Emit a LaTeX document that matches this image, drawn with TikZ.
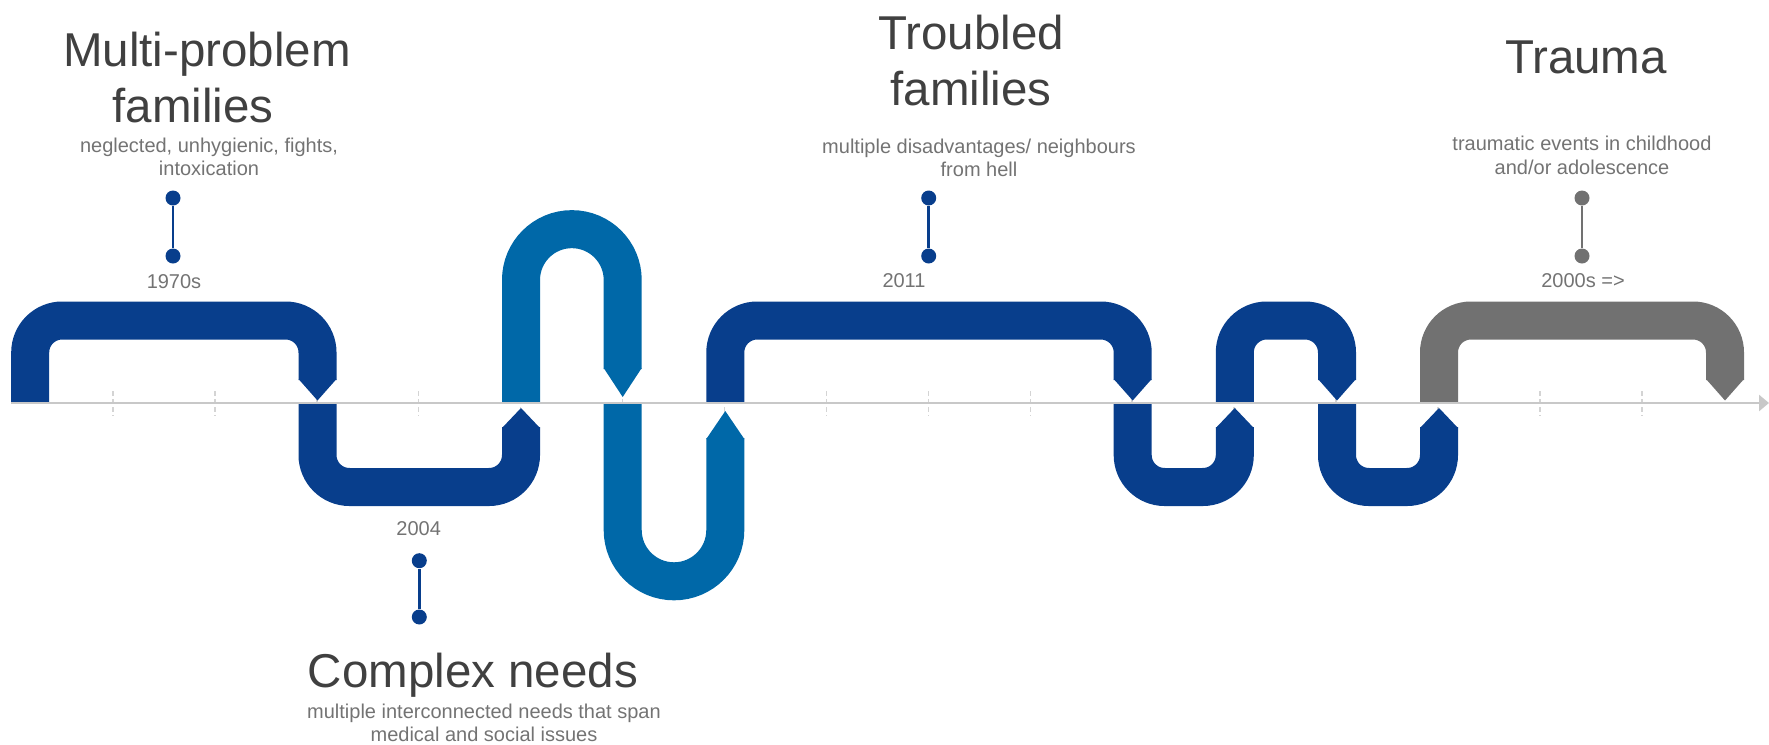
\documentclass[tikz,border=0pt]{standalone}
\usepackage{fontspec}
\setmainfont{Liberation Sans}
\usetikzlibrary{arrows.meta}

\definecolor{darkblue}{HTML}{083E8C}
\definecolor{lightblue}{HTML}{0068A8}
\definecolor{bandgray}{HTML}{717171}
\definecolor{axisgray}{HTML}{C8C8C8}
\definecolor{tickgray}{HTML}{D4D4D4}
\definecolor{titlegray}{HTML}{404040}
\definecolor{subgray}{HTML}{737373}

\tikzset{
  band/.style={line width=19pt, rounded corners=16pt},
  loop/.style={line width=19pt, sharp corners},
  axisline/.style={axisgray, line width=1.25pt, -{Triangle[length=5pt, width=8pt]}},
  tickline/.style={tickgray, line width=0.75pt, dash pattern=on 2.5pt off 1.5pt},
  title/.style={text=titlegray, font=\fontsize{23.75}{28}\selectfont, align=center, inner sep=0pt, anchor=base},
  sub/.style={text=subgray, font=\fontsize{10}{11.65}\selectfont, align=center, inner sep=0pt, anchor=base},
  year/.style={text=subgray, font=\fontsize{10}{12}\selectfont, inner sep=0pt, anchor=base},
  dot/.style={circle, inner sep=0pt, minimum size=7.5pt},
  pinline/.style={line width=1.25pt}
}

\begin{document}
\begin{tikzpicture}[x=0.5pt, y=-0.5pt]
  \useasboundingbox (0,0) rectangle (1769,745);

  % ticks under the bands
  \foreach \k in {1,...,16}
    \draw[tickline] ({11+101.93*\k},391) -- ({11+101.93*\k},416);

  % bands
  \draw[band, darkblue] (30.2,402) |- (317.5,320.5) -- (317.5,380);
  \draw[band, darkblue] (317.5,404) |- (521,487) -- (521,427);
  \draw[loop, lightblue] (521,402) -- (521,280) arc (180:360:50.85) -- (622.7,369);
  \draw[loop, lightblue] (622.7,404) -- (622.7,530) arc (180:0:51.3) -- (725.3,438);
  \draw[band, darkblue] (725.3,402) |- (1132.7,320.5) -- (1132.7,380);
  \draw[band, darkblue] (1132.7,404) |- (1234.8,487) -- (1234.8,427);
  \draw[band, darkblue] (1234.8,402) |- (1337,320.5) -- (1337,380);
  \draw[band, darkblue] (1337,404) |- (1439,487) -- (1439,427);
  \draw[band, bandgray] (1439,402) |- (1725,320.5) -- (1725,380);

  \foreach \x/\c in {317.5/darkblue, 1132.7/darkblue, 1337/darkblue, 1725/bandgray}
    \fill[\c] ({\x-19},379) -- (\x,400.5) -- ({\x+19},379) -- cycle;
  \foreach \x in {521, 1234.8, 1439}
    \fill[darkblue] ({\x-19},428) -- (\x,408) -- ({\x+19},428) -- cycle;
  \fill[lightblue] (603.7,368) -- (622.7,397) -- (641.7,368) -- cycle;
  \fill[lightblue] (706.3,439) -- (725.3,411) -- (744.3,439) -- cycle;

  \draw[axisline] (11,403) -- (1769,403);

  % Multi-problem families
  \node[title] (mptitle) at (207,122) {Multi-problem\\families\hspace*{14pt}};
  \node[sub] (mpsub) at (209,175.8) {neglected, unhygienic, fights,\\intoxication};
  \node[dot, fill=darkblue] (mptop) at (173,198) {};
  \node[dot, fill=darkblue] (mpbot) at (173,256) {};
  \draw[pinline, darkblue] (mptop) -- (mpbot);
  \node[year] (mpyear) at (174,288.5) {1970s};

  % Complex needs
  \node[year] (cnyear) at (418.7,535) {2004};
  \node[dot, fill=darkblue] (cntop) at (419.3,560.7) {};
  \node[dot, fill=darkblue] (cnbot) at (419.3,617) {};
  \draw[pinline, darkblue] (cntop) -- (cnbot);
  \node[title] (cntitle) at (473,687.7) {Complex needs};
  \node[sub] (cnsub) at (484,741.5) {multiple interconnected needs that span\\medical and social issues};

  % Troubled families
  \node[title] (tftitle) at (971,105.5) {Troubled\\families};
  \node[sub] (tfsub) at (979,176.5) {multiple disadvantages/ neighbours\\from hell};
  \node[dot, fill=darkblue] (tftop) at (928.7,198) {};
  \node[dot, fill=darkblue] (tfbot) at (928.7,256) {};
  \draw[pinline, darkblue] (tftop) -- (tfbot);
  \node[year] (tfyear) at (904,287.5) {2011};

  % Trauma
  \node[title] (trtitle) at (1586,73) {Trauma};
  \node[sub] (trsub) at (1582,174) {traumatic events in childhood\\and/or adolescence};
  \node[dot, fill=bandgray] (trtop) at (1582,198) {};
  \node[dot, fill=bandgray] (trbot) at (1582,256) {};
  \draw[pinline, bandgray] (trtop) -- (trbot);
  \node[year] (tryear) at (1583,287.5) {2000s =>};
\end{tikzpicture}
\end{document}
